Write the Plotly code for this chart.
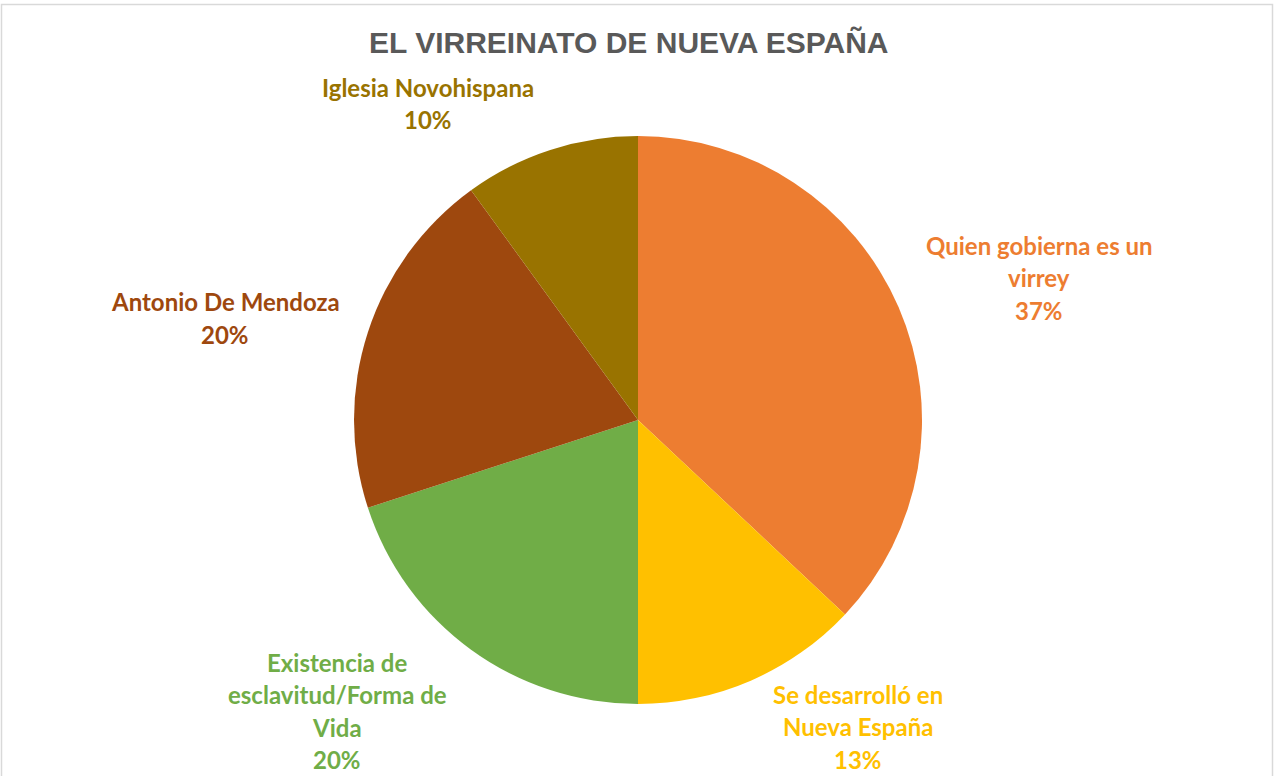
import plotly.graph_objects as go

W, H = 1274, 776

title = "EL VIRREINATO DE NUEVA ESPAÑA"
labels = ["Quien gobierna es un virrey", "Se desarrolló en Nueva España",
          "Existencia de esclavitud/Forma de Vida", "Antonio De Mendoza",
          "Iglesia Novohispana"]
values = [37, 13, 20, 20, 10]
colors = ["#ED7D31", "#FFC000", "#70AD47", "#9E480E", "#997300"]
# label text split into display lines
label_lines = [
    ["Quien gobierna es un", "virrey"],
    ["Se desarrolló en", "Nueva España"],
    ["Existencia de", "esclavitud/Forma de", "Vida"],
    ["Antonio De Mendoza"],
    ["Iglesia Novohispana"],
]
# label block centre x and first-line y (pixels)
label_pos = [(1039, 245), (858, 694), (337, 662), (225, 302), (428, 87)]
LINE_H = 32.5

cx, cy, r = 638, 420, 284

fig = go.Figure(go.Pie(
    labels=labels, values=values, sort=False, direction="clockwise", rotation=0,
    marker=dict(colors=colors, line=dict(width=0)),
    textinfo="none", hoverinfo="label+percent",
    domain=dict(x=[(cx - r) / W, (cx + r) / W], y=[(H - cy - r) / H, (H - cy + r) / H]),
    showlegend=False,
))

total = sum(values)
annotations = []
for lines, v, col, (x, y0) in zip(label_lines, values, colors, label_pos):
    all_lines = lines + [f"{round(100 * v / total)}%"]
    for i, t in enumerate(all_lines):
        y = y0 + i * LINE_H
        annotations.append(dict(
            text=f"<b>{t}</b>", x=x / W, y=1 - y / H, xref="paper", yref="paper",
            xanchor="center", yanchor="middle", showarrow=False,
            font=dict(family="Lato", size=24, color=col)))

annotations.append(dict(
    text=f"<b>{title}</b>", x=628.5 / W, y=1 - 42 / H, xref="paper", yref="paper",
    xanchor="center", yanchor="middle", showarrow=False,
    font=dict(family="Liberation Sans", size=30, color="#595959")))

fig.update_layout(
    width=W, height=H, margin=dict(l=0, r=0, t=0, b=0),
    paper_bgcolor="white", plot_bgcolor="white",
    annotations=annotations,
    shapes=[dict(type="rect", xref="paper", yref="paper",
                 x0=1.5 / W, x1=1 - 1.5 / W, y0=-0.02, y1=1 - 4.5 / H,
                 line=dict(color="#D9D9D9", width=1.5))],
)

fig.write_html("out.html", config={"displayModeBar": False},
               post_script="document.body.style.margin='0px';document.body.style.overflow='hidden';")
